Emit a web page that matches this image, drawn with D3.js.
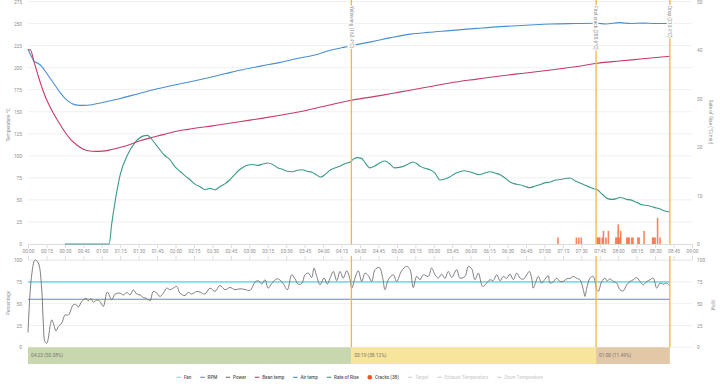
<!DOCTYPE html>
<html><head><meta charset="utf-8">
<script src="https://cdn.jsdelivr.net/npm/d3@7"></script>
<style>
html,body{margin:0;padding:0;background:#fff;}
svg{display:block;font-family:Roboto,"Noto Sans",sans-serif;}
</style></head>
<body>
<svg id="chart" width="720" height="388"></svg>
<script>
// ---------------- DATA ----------------
const tempTicks = [0,25,50,75,100,125,150,175,200,225,250,275];
const rorTicks = [0,10,20,30,40,50];
const pctTicks = [0,25,50,75,100];
const timeTicks = d3.range(0, 541, 15); // seconds, labelled mm:ss

const beanTemp = [[0,220.5],[2,220],[5,206],[8,192],[10,183],[13,171],[16,161],[20,150],[25,138],[30,127],[35,118],[40,112],[45,107.5],[50,105.5],[55,105],[60,105.3],[66,106.5],[72,108.5],[80,111.5],[91,117],[100,120.5],[110,124],[118,127],[130,130],[145,133],[160,136],[172,138.7],[190,142.5],[205,146],[221,150],[240,156],[263,163],[285,168],[303,172.5],[325,178],[343,182.6],[365,187],[384,190.6],[405,194],[425,197.4],[445,201],[463,205],[481,207.5],[500,210],[522,213]];

const airTemp = [[0,221],[3,212],[5,207],[8,205],[10,203],[13,198],[17,190],[21,182],[26,172],[31,164],[36,159],[40,157.5],[45,157.2],[52,158],[64,161.5],[75,165],[91,171],[105,176],[118,180],[132,184],[145,188],[160,193],[172,197],[190,202],[205,206],[221,211],[235,215],[245,219.5],[255,222.5],[263,225],[280,229.5],[295,234],[311,238],[325,240],[343,242],[365,244.5],[384,246.5],[405,248],[425,249.5],[445,250],[463,250.3],[470,249.5],[481,251],[490,250],[500,250.5],[510,250],[522,250.4]];

const rateOfRise = [[30,0],[66,0],[68,4],[71,9],[75,14.3],[81,18.4],[87,20.9],[94,22.3],[97,22.4],[100,21.8],[104,20.5],[107,19.5],[111,18.3],[115,17.5],[120,15.8],[124,14.9],[128,14],[132,13.2],[136,12.3],[140,11.8],[144,11.2],[148,11.5],[152,11.2],[156,11.8],[160,12.4],[164,13.2],[168,14.3],[172,15.3],[176,16],[179,16.3],[183,16.4],[187,16.2],[191,16.5],[195,16.7],[199,16.4],[203,15.7],[207,15.4],[211,15],[215,14.9],[219,15.2],[223,15.3],[227,15],[231,14.8],[235,14.2],[238,13.8],[242,14.4],[246,15.3],[250,15.7],[254,16.1],[258,16.6],[262,16.9],[265,17.6],[268,17.8],[271,17.7],[274,16.8],[278,15.7],[282,16.1],[286,16.7],[290,17.1],[294,16.6],[298,15.7],[302,15.8],[307,16.2],[310,16.6],[313,16.9],[316,16.6],[319,16],[323,15.6],[327,15.3],[331,14.6],[335,13.2],[339,13.4],[343,13.8],[347,14.5],[351,14.9],[355,15.1],[359,14.9],[363,14.6],[366,14.3],[370,14.5],[376,14.9],[380,14.6],[384,14.3],[388,13.6],[392,12.8],[396,12.4],[400,12.2],[404,11.9],[408,11.6],[412,11.9],[416,12.2],[420,12.6],[425,12.8],[429,13.2],[433,13.3],[437,13.5],[441,13.6],[445,13],[449,12.6],[453,12.1],[457,11.7],[460,11.4],[463,11.2],[466,10.5],[469,9.8],[472,9.3],[475,9.2],[478,9.3],[481,9.6],[484,9.5],[487,9.2],[490,9.1],[494,8.7],[498,8.2],[502,8],[506,7.8],[510,7.5],[514,7.2],[518,6.8],[522,6.6]];

const power = [[0,17],[3,83],[5.7,100],[8.4,96.5],[11.1,68],[12.4,29],[13.8,6.4],[15.2,4.6],[16.5,10],[17.9,23.7],[19.3,31.4],[20.6,27.6],[22.8,18.7],[24.6,23.7],[27.4,27.6],[30.1,37],[32.8,37],[36.8,48.6],[39,49],[40.9,46],[43.7,52.4],[47.2,56.3],[49,53.2],[51.2,56],[53.1,51.7],[55.9,54],[58.6,52.4],[61.2,46.7],[64.5,63.2],[68.1,54.4],[70.8,61],[74.8,62],[77.5,60],[80.3,62.8],[83,60],[85.6,65.9],[88.4,61],[91.1,60],[93.8,57],[96.5,56],[99.2,53.2],[101.9,64],[104.7,62],[107.3,58.2],[110,62],[112.8,67.8],[115.5,66],[118.2,67.8],[120.9,69.7],[123.6,62],[127.7,59.3],[130.4,63],[133.1,61],[137.2,64],[139.9,63.2],[143.9,61],[148,67.8],[152.1,64],[156.1,70.8],[160.2,66],[164.3,68.5],[168.3,66],[172.4,67],[176.5,66.2],[180.5,65],[184.6,74.7],[187.3,76.2],[190.1,72.4],[192.7,77.4],[195.4,67.8],[198.2,73],[202.3,78.5],[204.9,77],[207.6,73],[210.9,65.9],[214.5,83.1],[217.1,78.5],[219.8,72.4],[222.6,73],[225.3,83.1],[228,85],[230.7,80],[232.6,90.8],[234.8,81.2],[237.5,71.6],[240.7,79.3],[243.4,72.4],[245.6,79],[248.3,86.9],[251.1,76.2],[253.7,86.9],[256.4,79.3],[259.2,87.7],[261.9,77.4],[263.3,67.8],[265.9,79.3],[268.6,87.7],[271.4,75.4],[274.1,85],[276.7,82.3],[279.5,75.4],[282.2,88.9],[285.7,91.5],[288.5,79.3],[290.3,65.9],[293,77.4],[297.1,83.1],[299.8,75.4],[303.9,87.7],[308,92.6],[310.7,88.9],[313.3,68.5],[316.1,81.2],[318.8,77.4],[321.5,83.1],[325.5,81.2],[328.3,90.8],[331,83.1],[333.7,79.3],[336.4,83.9],[339.1,79],[341.8,86.9],[344.6,80],[348.6,88.9],[351.3,79.3],[355.4,81.2],[358.1,92.6],[360.8,90],[363.5,77.4],[366.2,85],[369.8,69.7],[373,73.6],[375.7,77.4],[378.4,76.5],[381.2,83.1],[383.9,76.2],[386.5,81.2],[389.3,79],[392,83.9],[394.7,77.4],[397.4,85],[400.1,79.3],[402.8,78],[405.6,83.1],[407.7,86.9],[409.6,79.3],[410.9,67.8],[413.1,75.4],[415,81.2],[417.8,73.6],[420.4,78],[423.1,82],[424.5,73.6],[427.2,75],[430,79.3],[432.6,75.4],[435.3,75.4],[438.1,78.5],[440.8,79],[443.5,81.2],[446.2,79],[448.9,77.4],[451.6,65.9],[453,58.2],[454.4,67.8],[457.1,79.3],[459.7,81.2],[462.5,65.9],[463.8,64],[466.6,75.4],[469.2,79.3],[471.1,76],[473.3,78.5],[476,75.4],[478.8,73.6],[481.4,65.9],[484.1,64.7],[486.9,71.6],[489.6,75.4],[492.3,77.4],[495,80],[497.7,75.4],[500.4,71.6],[503.2,75.4],[505.9,77.4],[508.5,79.3],[511.3,67.8],[514,73.6],[516.7,72.4],[519.4,73.6],[521.5,70.8]];

const fanLevel = [[0,75],[522,75]];
const rpmLevel = [[0,55],[522,55]];

// crack times (s) and crack counts
const crackTimes  = [431,446,448,450,463,464,465,467,468,470,472,478,479,480,481,482,487,488,489,491,492,496,497,501,508,509,510,512,514];
const crackCounts = [1,  1,  1,  1,  1,  1,  1,  1,  2,  1,  2,  1,  1,  3,  1,  2,  1,  1,  1,  1,  1,  1,  1,  2,  1,  1,  1,  4,  1];

const eventNames = ["Yellowing (163.4°C)","First crack (205.6°C)","Drop (213.4°C)"];
const eventTimes = [263, 462, 522];

const phaseLabels = ["04:23 (50.38%)","03:19 (38.12%)","01:00 (11.49%)"];
const phaseStarts = [0, 263, 462];
const phaseEnds   = [263, 462, 522];

const legendNames = ["Fan","RPM","Power","Bean temp","Air temp","Rate of Rise","Cracks (38)","Target","Exhaust Temperature","Drum Temperature"];

// ---------------- STYLE ----------------
const C = {
  fan:"#80dde6", rpm:"#6f80dc", power:"#707070", bean:"#c63b63", air:"#4a8fd4",
  ror:"#3b9a8b", crack:"#f4511e", event:"#f7b733", grid:"#ececec", axis:"#dcdcdc",
  text:"#8f8f8f", phase:["#c9d7ae","#f6e59a","#e2c8a6"], off:"#d0d0d0"
};
const legendColors = [C.fan,C.rpm,C.power,C.bean,C.air,C.ror,C.crack,C.off,C.off,C.off];
const FS = 4.8;
const LFS = 4.6;

const svg = d3.select("#chart");
svg.append("rect").attr("width",720).attr("height",388).attr("fill","#fff");

// ---------------- SCALES ----------------
const x = d3.scaleLinear().domain([0,540]).range([28,692]);
const yT = d3.scaleLinear().domain([0,275]).range([244,1.5]);
const yR = d3.scaleLinear().domain([0,50]).range([244,1.5]);
const yC = d3.scaleLinear().domain([0,37]).range([244,1.5]);
const yB = d3.scaleLinear().domain([0,100]).range([347.3,260]);
const fmt = s => d3.format("02")(Math.floor(s/60)) + ":" + d3.format("02")(s%60);

// ---------------- TOP CHART ----------------
const topG = svg.append("g");
topG.append("g").selectAll("line").data(tempTicks.slice(1)).join("line")
  .attr("x1",28).attr("x2",692).attr("y1",d=>yT(d)).attr("y2",d=>yT(d))
  .attr("stroke",C.grid).attr("stroke-width",0.8);

const gx = topG.append("g").attr("transform","translate(0,244)")
  .call(d3.axisBottom(x).tickValues(timeTicks).tickFormat(fmt).tickSize(4).tickPadding(2));
gx.select(".domain").attr("stroke",C.axis);
gx.selectAll(".tick line").attr("stroke",C.axis);
gx.selectAll("text").attr("fill",C.text).attr("font-size",FS).attr("font-family","Roboto");

const gyl = topG.append("g").attr("transform","translate(22,0)")
  .call(d3.axisLeft(yT).tickValues(tempTicks).tickSize(0).tickPadding(0));
gyl.select(".domain").remove();
gyl.selectAll("text").attr("fill",C.text).attr("font-size",FS).attr("font-family","Roboto");

const gyr = topG.append("g").attr("transform","translate(697,0)")
  .call(d3.axisRight(yR).tickValues(rorTicks).tickSize(0).tickPadding(0));
gyr.select(".domain").remove();
gyr.selectAll("text").attr("fill",C.text).attr("font-size",FS).attr("font-family","Roboto");

topG.append("text").attr("transform","translate(8,125) rotate(-90)").attr("text-anchor","middle")
  .attr("dy","0.35em").attr("font-size",FS).attr("fill",C.text).text("Temperature °C");
topG.append("text").attr("transform","translate(711,122) rotate(90)").attr("text-anchor","middle")
  .attr("dy","0.35em").attr("font-size",FS).attr("fill",C.text).text("Rate of Rise (°C/min)");

// cracks bars
topG.append("g").selectAll("rect").data(crackTimes).join("rect")
  .attr("x",(d)=>x(d)-0.8).attr("width",1.6)
  .attr("y",(d,i)=>yC(crackCounts[i])).attr("height",(d,i)=>yC(0)-yC(crackCounts[i]))
  .attr("fill",C.crack).attr("opacity",0.7);

const line = (ys) => d3.line().x(d=>x(d[0])).y(d=>ys(d[1])).curve(d3.curveMonotoneX);
topG.append("path").attr("d",line(yR)(rateOfRise)).attr("fill","none").attr("stroke",C.ror).attr("stroke-width",1.1);
topG.append("path").attr("d",line(yT)(airTemp)).attr("fill","none").attr("stroke",C.air).attr("stroke-width",1.1);
topG.append("path").attr("d",line(yT)(beanTemp)).attr("fill","none").attr("stroke",C.bean).attr("stroke-width",1.1);

// ---------------- BOTTOM CHART ----------------
const bot = svg.append("g");
bot.append("g").selectAll("line").data(pctTicks).join("line")
  .attr("x1",28).attr("x2",692).attr("y1",d=>yB(d)).attr("y2",d=>yB(d))
  .attr("stroke",C.grid).attr("stroke-width",0.8);
const gbx = bot.append("g").attr("transform","translate(0,260)")
  .call(d3.axisTop(x).tickValues(timeTicks).tickFormat("").tickSize(4));
gbx.select(".domain").attr("stroke",C.grid);
gbx.selectAll(".tick line").attr("stroke",C.axis);

const gbl = bot.append("g").attr("transform","translate(22,0)")
  .call(d3.axisLeft(yB).tickValues(pctTicks).tickSize(0).tickPadding(0));
gbl.select(".domain").remove();
gbl.selectAll("text").attr("fill",C.text).attr("font-size",FS).attr("font-family","Roboto");
const gbr = bot.append("g").attr("transform","translate(697,0)")
  .call(d3.axisRight(yB).tickValues(pctTicks).tickSize(0).tickPadding(0));
gbr.select(".domain").remove();
gbr.selectAll("text").attr("fill",C.text).attr("font-size",FS).attr("font-family","Roboto");
bot.append("text").attr("transform","translate(8,303) rotate(-90)").attr("text-anchor","middle")
  .attr("dy","0.35em").attr("font-size",FS).attr("fill",C.text).text("Percentage");
bot.append("text").attr("transform","translate(713,305) rotate(90)").attr("text-anchor","middle")
  .attr("dy","0.35em").attr("font-size",FS).attr("fill",C.text).text("RPM");

bot.append("path").attr("d",line(yB)(fanLevel)).attr("fill","none").attr("stroke",C.fan).attr("stroke-width",1.6);
bot.append("path").attr("d",line(yB)(rpmLevel)).attr("fill","none").attr("stroke",C.rpm).attr("stroke-width",1.1);
bot.append("path").attr("d",d3.line().x(d=>x(d[0])).y(d=>yB(d[1])).curve(d3.curveCatmullRom)(power))
  .attr("fill","none").attr("stroke",C.power).attr("stroke-width",0.9);

// phases
const ph = bot.append("g");
ph.selectAll("rect").data(phaseLabels).join("rect")
  .attr("x",(d,i)=>x(phaseStarts[i])).attr("width",(d,i)=>x(phaseEnds[i])-x(phaseStarts[i]))
  .attr("y",yB(0)).attr("height",16.7).attr("fill",(d,i)=>C.phase[i]);
ph.selectAll("text").data(phaseLabels).join("text")
  .attr("x",(d,i)=>x(phaseStarts[i])+3).attr("y",yB(0)+8.4).attr("dy","0.35em")
  .attr("font-size",FS).attr("fill","#777").text(d=>d);

// events
const ev = svg.append("g");
eventTimes.forEach((t,i)=>{
  ev.append("line").attr("x1",x(t)).attr("x2",x(t)).attr("y1",0).attr("y2",244)
    .attr("stroke",C.event).attr("stroke-width",1.3);
  ev.append("line").attr("x1",x(t)).attr("x2",x(t)).attr("y1",256).attr("y2",yB(0))
    .attr("stroke",C.event).attr("stroke-width",1.3);
  ev.append("text").attr("transform",`translate(${x(t)},6) rotate(90)`)
    .attr("dy","0.35em").attr("font-size",FS).attr("fill","#888")
    .attr("stroke","#fff").attr("stroke-width",2.5).attr("paint-order","stroke")
    .text(eventNames[i]);
});

// ---------------- LEGEND ----------------
const lg = svg.append("g").attr("font-size",LFS);
const items = lg.selectAll("g").data(legendNames).join("g");
items.each(function(d,i){
  const g = d3.select(this);
  if (i===6) g.append("circle").attr("cx",2).attr("cy",0).attr("r",2.3).attr("fill",C.crack);
  else g.append("line").attr("x1",0).attr("x2",4.5).attr("y1",0).attr("y2",0)
        .attr("stroke",legendColors[i]).attr("stroke-width",1.1);
  g.append("text").attr("x",7.3).attr("dy","0.35em")
    .attr("fill", i>=7 ? C.off : "#555").attr("font-weight",500).text(d);
});
let widths = [];
items.each(function(){ widths.push(this.getBBox().width); });
const gap = 8.4;
const total = d3.sum(widths) + gap*(widths.length-1);
let cx = 360 - total/2;
items.attr("transform",(d,i)=>{ const t = `translate(${cx},377.3)`; cx += widths[i]+gap; return t; });
</script>
</body></html>
